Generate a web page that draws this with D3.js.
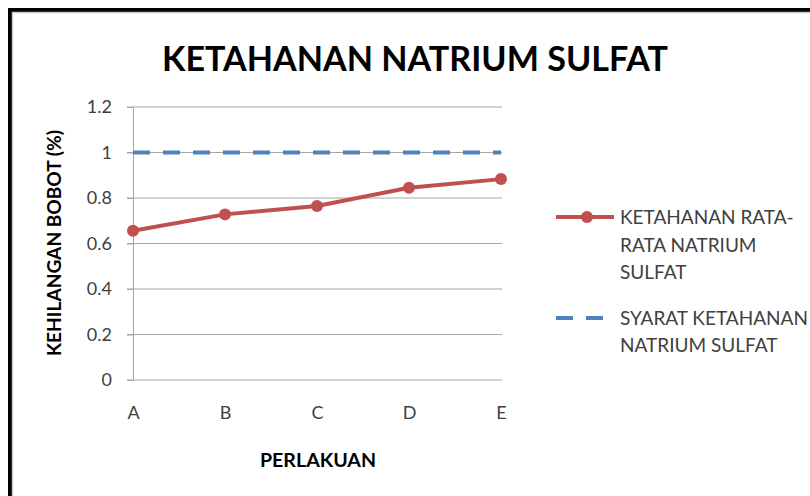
<!DOCTYPE html>
<head>
  <meta charset='utf-8'>
  <title>Ketahanan Natrium Sulfat</title>
  <script src="https://cdn.jsdelivr.net/npm/d3@7"></script>
  <style>
    body { margin: 0; background: #fff; }
    svg text { font-family: Lato, "Open Sans", sans-serif; }
    .tick text { fill: #404040; font-size: 18px; }
  </style>
</head>

<body>
  <div id="chart"></div>
  <script type="text/javascript">
    // data
    var categories = ["A", "B", "C", "D", "E"];
    var ketahanan = [0.656, 0.728, 0.765, 0.845, 0.883];
    var syarat = [1, 1, 1, 1, 1];
    var yTicks = [0, 0.2, 0.4, 0.6, 0.8, 1, 1.2];
    var legendRed = ["KETAHANAN RATA-", "RATA NATRIUM", "SULFAT"];
    var legendBlue = ["SYARAT KETAHANAN", "NATRIUM SULFAT"];

    var width = 810,
        height = 496;

    var svg = d3.select("#chart").append("svg")
        .attr("width", width)
        .attr("height", height);

    // frame
    svg.append("rect")
        .attr("x", 10).attr("y", 10)
        .attr("width", width + 20).attr("height", height + 20)
        .style("fill", "none").style("stroke", "#000").style("stroke-width", 4);
    svg.append("rect")
        .attr("x", 12.5).attr("y", 12.5)
        .attr("width", width + 20).attr("height", height + 20)
        .style("fill", "none").style("stroke", "#c8c8c8").style("stroke-width", 1.5);

    var x = d3.scalePoint().domain(categories).range([133, 501]);
    var y = d3.scaleLinear().domain([0, 1.2]).range([380, 107]);

    // gridlines
    svg.append("g")
        .selectAll("line")
        .data(yTicks)
      .enter().append("line")
        .attr("x1", 127).attr("x2", 502)
        .attr("y1", function(d) { return y(d); })
        .attr("y2", function(d) { return y(d); })
        .style("stroke", "#a6a6a6").style("stroke-width", 1);

    // y axis
    var yAxis = svg.append("g")
        .attr("transform", "translate(133,0)")
        .call(d3.axisLeft(y).tickValues(yTicks).tickSize(6).tickPadding(15)
          .tickFormat(function(d) { return d3.format("")(+d.toFixed(1)); }));
    yAxis.select(".domain").style("stroke", "#a6a6a6");
    yAxis.selectAll(".tick line").style("stroke", "#a6a6a6");
    yAxis.selectAll(".tick text").attr("x", -21);

    // x axis (labels only)
    var xAxis = svg.append("g")
        .attr("transform", "translate(0,380)")
        .call(d3.axisBottom(x).tickSize(0).tickPadding(26));
    xAxis.select(".domain").remove();

    // requirement line
    var line = d3.line()
        .x(function(d, i) { return x(categories[i]); })
        .y(function(d) { return y(d); });

    svg.append("path")
        .datum(syarat)
        .attr("d", line)
        .style("fill", "none")
        .style("stroke", "#4f81bd")
        .style("stroke-width", 4)
        .style("stroke-dasharray", "17,13");

    svg.append("path")
        .datum(ketahanan)
        .attr("d", line)
        .style("fill", "none")
        .style("stroke", "#c0504d")
        .style("stroke-width", 4);

    svg.selectAll(".dot")
        .data(ketahanan)
      .enter().append("circle")
        .attr("class", "dot")
        .attr("cx", function(d, i) { return x(categories[i]); })
        .attr("cy", function(d) { return y(d); })
        .attr("r", 6)
        .style("fill", "#c0504d");

    // titles
    svg.append("text")
        .attr("x", 415).attr("y", 71)
        .attr("text-anchor", "middle")
        .attr("textLength", 506).attr("lengthAdjust", "spacingAndGlyphs")
        .style("font-size", "35px").style("font-weight", "bold")
        .text("KETAHANAN NATRIUM SULFAT");

    svg.append("text")
        .attr("x", 318).attr("y", 467)
        .attr("text-anchor", "middle")
        .attr("textLength", 116).attr("lengthAdjust", "spacingAndGlyphs")
        .style("font-size", "18px").style("font-weight", "bold")
        .text("PERLAKUAN");

    svg.append("text")
        .attr("transform", "translate(61,243) rotate(-90)")
        .attr("text-anchor", "middle")
        .attr("textLength", 226).attr("lengthAdjust", "spacingAndGlyphs")
        .style("font-size", "18px").style("font-weight", "bold")
        .text("KEHILANGAN BOBOT (%)");

    // legend
    var legend = svg.append("g");
    legend.append("line")
        .attr("x1", 556).attr("x2", 614).attr("y1", 217).attr("y2", 217)
        .style("stroke", "#c0504d").style("stroke-width", 4);
    legend.append("circle")
        .attr("cx", 587).attr("cy", 217).attr("r", 6)
        .style("fill", "#c0504d");
    legend.append("line")
        .attr("x1", 556).attr("x2", 614).attr("y1", 318).attr("y2", 318)
        .style("stroke", "#4f81bd").style("stroke-width", 4)
        .style("stroke-dasharray", "17,13");

    legend.selectAll(".lr")
        .data(legendRed)
      .enter().append("text")
        .attr("x", 620)
        .attr("y", function(d, i) { return 224 + i * 27.5; })
        .style("font-size", "19px").style("fill", "#404040")
        .text(function(d) { return d; });

    legend.selectAll(".lb")
        .data(legendBlue)
      .enter().append("text")
        .attr("x", 620)
        .attr("y", function(d, i) { return 325 + i * 26.5; })
        .style("font-size", "19px").style("fill", "#404040")
        .text(function(d) { return d; });
  </script>
</body>
